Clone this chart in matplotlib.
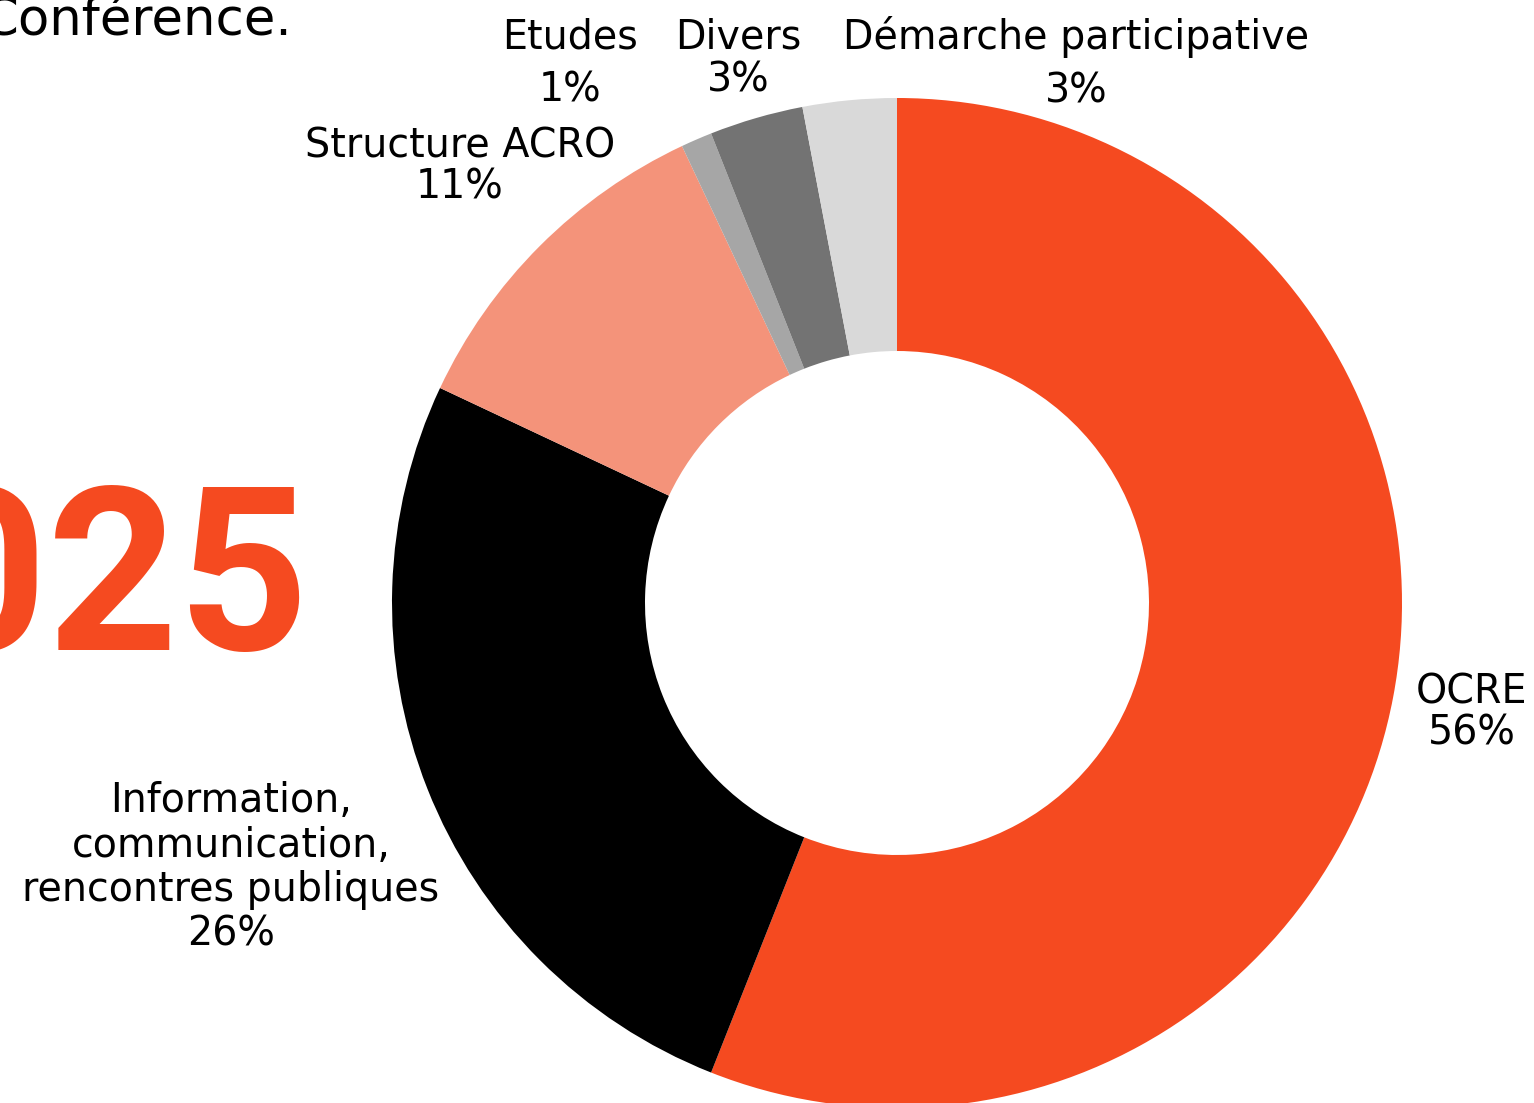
"""Donut chart: répartition des dépenses 2025"""

import matplotlib
matplotlib.use('Agg')
import matplotlib.pyplot as plt

# Data
categories = ['OCRE', 'Information,\ncommunication,\nrencontres publiques',
              'Structure ACRO', 'Etudes', 'Divers', 'Démarche participative']
shares = [56, 26, 11, 1, 3, 3]
colors = ['#F54A20', '#000000', '#F4937A', '#A6A6A6', '#737373', '#D9D9D9']

# label anchor points (pixels, y downward) and line spacing per label
label_pos = [(1472, 713), (231, 868), (460, 167), (570, 64), (738, 59), (1076, 64)]
label_spacing = [1.05, 1.15, 1.05, 1.42, 1.08, 1.42]

W, H = 1534, 1103
cx, cy, r_out, r_in = 897, 603, 505, 252

plt.rcParams['font.family'] = ['DejaVu Sans']

fig = plt.figure(figsize=(W / 100, H / 100), dpi=100)
ax = fig.add_axes([0, 0, 1, 1])

# y axis is inverted below, so counterclock in data = clockwise on screen
ax.pie(shares, colors=colors, startangle=-90, counterclock=True,
       center=(cx, cy), radius=r_out,
       wedgeprops=dict(width=r_out - r_in, linewidth=0))

ax.set_xlim(0, W)
ax.set_ylim(H, 0)
ax.set_aspect('auto')
ax.axis('off')

for name, val, (x, y), ls in zip(categories, shares, label_pos, label_spacing):
    ax.text(x, y, f'{name}\n{val}%', ha='center', va='center',
            fontsize=28.5, color='black', linespacing=ls)

# cropped background texts from the surrounding slide
ax.text(292, 35, 'Conférence.', ha='right', va='baseline',
        fontsize=37, color='black')
ax.text(309, 650, '2025', ha='right', va='baseline', family='Roboto',
        fontsize=164, fontweight='bold', color='#F54A20')

fig.savefig('out.png', dpi=100)
